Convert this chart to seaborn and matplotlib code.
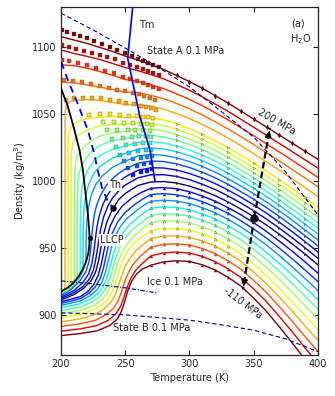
import matplotlib
matplotlib.use("Agg")
import matplotlib.pyplot as plt
import seaborn as sns

# ---------------- data ----------------
P_POS = [0.1, 10, 20, 30, 40, 50, 60, 70, 80, 90, 100, 120, 140, 160, 180, 200]
P_NEG = [-10, -20, -30, -40, -50, -60, -70, -80, -90, -100, -110]

# positive isobars, T >= 250 K
T_HI = [250, 260, 270, 280, 290, 300, 310, 320, 330, 340, 350, 360, 370, 380, 390, 400]
HI_P0 = [991.0, 997.0, 999.6, 999.9, 998.8, 996.5, 993.3, 989.4, 984.7, 979.4, 973.7, 967.4, 960.6, 953.4, 945.8, 937.8]
HI_P10 = [997.3, 1002.7, 1004.9, 1005.0, 1003.7, 1001.3, 997.9, 994.0, 989.2, 983.9, 978.1, 971.9, 965.1, 958.0, 950.5, 942.6]
HI_P20 = [1003.4, 1008.3, 1010.2, 1010.0, 1008.5, 1005.9, 1002.5, 998.4, 993.6, 988.3, 982.5, 976.3, 969.5, 962.5, 955.1, 947.3]
HI_P30 = [1009.2, 1013.6, 1015.2, 1014.8, 1013.1, 1010.4, 1006.9, 1002.7, 997.8, 992.4, 986.7, 980.4, 973.8, 966.8, 959.5, 951.8]
HI_P40 = [1015.1, 1019.0, 1020.1, 1019.5, 1017.6, 1014.8, 1011.2, 1006.9, 1002.0, 996.6, 990.8, 984.6, 978.0, 971.1, 963.8, 956.3]
HI_P50 = [1020.8, 1024.2, 1025.0, 1024.2, 1022.1, 1019.2, 1015.5, 1011.1, 1006.2, 1000.7, 994.9, 988.7, 982.1, 975.3, 968.1, 960.7]
HI_P60 = [1026.4, 1029.3, 1029.8, 1028.7, 1026.5, 1023.4, 1019.6, 1015.1, 1010.2, 1004.6, 998.8, 992.6, 986.1, 979.3, 972.3, 965.0]
HI_P70 = [1031.8, 1034.2, 1034.4, 1033.2, 1030.7, 1027.5, 1023.6, 1019.1, 1014.1, 1008.5, 1002.7, 996.5, 990.0, 983.3, 976.3, 969.1]
HI_P80 = [1037.1, 1039.1, 1038.9, 1037.5, 1034.9, 1031.6, 1027.6, 1023.0, 1017.9, 1012.3, 1006.5, 1000.3, 993.9, 987.2, 980.3, 973.2]
HI_P90 = [1042.3, 1043.8, 1043.3, 1041.7, 1038.9, 1035.5, 1031.4, 1026.7, 1021.6, 1016.0, 1010.1, 1004.0, 997.6, 991.0, 984.2, 977.2]
HI_P100 = [1047.4, 1048.4, 1047.7, 1045.9, 1042.9, 1039.4, 1035.2, 1030.4, 1025.3, 1019.6, 1013.7, 1007.6, 1001.3, 994.7, 988.0, 981.1]
HI_P120 = [1057.2, 1057.4, 1056.1, 1053.9, 1050.6, 1046.9, 1042.5, 1037.6, 1032.4, 1026.6, 1020.7, 1014.6, 1008.3, 1001.9, 995.4, 988.6]
HI_P140 = [1066.7, 1066.1, 1064.2, 1061.7, 1058.1, 1054.1, 1049.6, 1044.5, 1039.2, 1033.4, 1027.5, 1021.4, 1015.2, 1008.9, 1002.5, 996.0]
HI_P160 = [1076.0, 1074.5, 1072.1, 1069.2, 1065.3, 1061.2, 1056.5, 1051.2, 1045.9, 1040.0, 1034.1, 1028.0, 1021.9, 1015.7, 1009.4, 1003.0]
HI_P180 = [1084.9, 1082.6, 1079.7, 1076.5, 1072.3, 1068.0, 1063.1, 1057.7, 1052.3, 1046.4, 1040.4, 1034.4, 1028.3, 1022.2, 1016.1, 1009.9]
HI_P200 = [1093.5, 1090.5, 1087.0, 1083.5, 1079.0, 1074.5, 1069.5, 1064.0, 1058.5, 1052.5, 1046.5, 1040.5, 1034.5, 1028.5, 1022.5, 1016.5]

# positive isobars, T < 250 K
LO_T_P0 = [200, 210, 218, 223.5, 227, 229.2, 231, 233, 235.5, 238.5, 240.7, 245]
LO_R_P0 = [911.6, 915.5, 920.5, 926, 932.5, 940.5, 950, 960, 969, 976, 980, 986.5]
LO_T_P10 = [200, 210, 217, 222, 225.3, 227.3, 229, 230.8, 233.2, 236.5, 240, 245]
LO_R_P10 = [912.7, 917, 921.5, 927, 934, 943, 953, 964, 973.5, 981.5, 987.5, 993]
LO_T_P20 = [200, 210, 217, 221.5, 224, 225.5, 226.7, 228, 229.8, 232.5, 236, 240, 245]
LO_R_P20 = [913.7, 918.5, 924.5, 931, 938.5, 947, 956.5, 966, 974.5, 982.5, 989.5, 995, 999.5]
LO_T_P30 = [200, 208, 215, 219.5, 221.8, 223, 223.8, 224.8, 226, 228, 231, 235, 240, 245]
LO_R_P30 = [914.6, 919.5, 926, 933, 940, 948, 957.5, 967, 975.5, 983, 990, 996.5, 1002, 1006]
LO_T_P40 = [200, 205, 210, 214, 216.5, 218, 219.45, 219.5, 219.7, 220.3, 221.5, 223.5, 227, 232, 240]
LO_R_P40 = [916.0, 918.5, 922.5, 927.5, 932.1, 935.8, 940, 950, 962, 971.5, 981, 989.5, 997.5, 1004, 1010.5]
LO_T_P50 = [200, 205, 210, 214, 216, 217.15, 217.2, 217.4, 218, 219.3, 221.5, 225, 230, 240]
LO_R_P50 = [916.2, 918.7, 922.7, 927.8, 931.8, 934.5, 958, 971.5, 981, 989.5, 997.5, 1005, 1011, 1017.3]
LO_T_P60 = [200, 205, 210, 213, 214.95, 215.0, 215.3, 216.2, 217.8, 220.5, 224.5, 230, 240]
LO_R_P60 = [916.4, 918.9, 923, 926.5, 930.2, 972, 985, 994, 1001.5, 1008, 1014, 1019.3, 1023.8]
LO_T_P70 = [200, 205, 209, 212.65, 212.7, 212.8, 213.2, 214.3, 216.3, 219.5, 224, 230, 240]
LO_R_P70 = [916.6, 919.1, 922.3, 926.5, 982, 991, 1000, 1007, 1012.5, 1017.5, 1022.5, 1026.8, 1030.3]
LO_T_P80 = [200, 205, 208, 210.45, 210.5, 210.6, 211.2, 212.3, 214.5, 218, 223, 230, 240]
LO_R_P80 = [916.8, 919.3, 921.8, 924.6, 998, 1005, 1012.5, 1018, 1022, 1026, 1029.8, 1033.8, 1036.3]
LO_T_P90 = [200, 204, 207.95, 208.0, 208.2, 208.8, 210, 212, 216, 222, 230, 240]
LO_R_P90 = [917.0, 919.0, 922.3, 1013, 1021, 1027, 1030.5, 1033, 1036, 1038.8, 1041.3, 1042.5]
LO_T_P100 = [200, 203, 205.55, 205.6, 205.8, 206.5, 207.8, 210, 214, 220, 230, 240]
LO_R_P100 = [917.2, 918.8, 920.6, 1026, 1033, 1037.5, 1040.5, 1043, 1045, 1046.8, 1048, 1048.3]
LO_T_P120 = [200, 201.5, 203.15, 203.2, 203.5, 204.2, 205.5, 208, 213, 220, 230, 240]
LO_R_P120 = [917.4, 918.2, 919.3, 1047, 1053, 1056.5, 1058.5, 1059.8, 1060.6, 1061, 1060.5, 1059]
LO_T_P140 = [200, 210, 220, 230, 240]
LO_R_P140 = [1074, 1073.5, 1072, 1070.3, 1068.6]
LO_T_P160 = [200, 210, 220, 230, 240]
LO_R_P160 = [1087, 1086.3, 1084.5, 1082, 1079.2]
LO_T_P180 = [200, 210, 220, 230, 240]
LO_R_P180 = [1098, 1095.5, 1093.3, 1091, 1088]
LO_T_P200 = [200, 210, 220, 230, 240]
LO_R_P200 = [1108, 1105.5, 1103, 1100, 1097]

# negative isobars, T >= 280 K
T_NHI = [280, 290, 300, 310, 320, 330, 340, 350, 360, 370, 380, 390, 400]
NHI_M10 = [995.4, 994.5, 992.3, 989.1, 985.2, 980.5, 975.1, 969.2, 962.6, 955.4, 947.9, 939.9, 931.6]
NHI_M20 = [990.9, 990.0, 988.0, 984.9, 981.0, 976.2, 970.7, 964.5, 957.7, 950.2, 942.2, 933.9, 925.3]
NHI_M30 = [986.0, 985.3, 983.5, 980.4, 976.6, 971.7, 966.1, 959.6, 952.5, 944.6, 936.3, 927.5, 918.6]
NHI_M40 = [981.0, 980.5, 978.8, 975.8, 972.0, 967.0, 961.3, 954.6, 947.1, 938.8, 930.1, 921.0, 911.7]
NHI_M50 = [975.9, 975.6, 974.0, 971.1, 967.2, 962.2, 956.4, 949.4, 941.6, 933.0, 923.8, 914.3, 904.7]
NHI_M60 = [970.6, 970.4, 969.0, 966.1, 962.3, 957.2, 951.3, 944.0, 935.8, 926.7, 917.2, 907.2, 897.2]
NHI_M70 = [964.9, 964.9, 963.7, 960.9, 957.1, 951.9, 945.9, 938.3, 929.8, 920.3, 910.2, 899.8, 889.4]
NHI_M80 = [959.2, 959.4, 958.3, 955.6, 951.7, 946.5, 940.4, 932.4, 923.6, 913.6, 903.2, 892.2, 881.5]
NHI_M90 = [953.1, 953.4, 952.6, 949.9, 946.1, 940.8, 934.5, 926.2, 917.0, 906.6, 895.6, 884.2, 873.1]
NHI_M100 = [946.7, 947.3, 946.6, 944.0, 940.2, 934.8, 928.4, 919.8, 910.2, 899.2, 887.8, 875.8, 864.3]
NHI_M110 = [940.0, 940.8, 940.3, 937.8, 934.0, 928.5, 922.0, 913.0, 903.0, 891.5, 879.5, 867.0, 855.0]

# negative isobars, T <= 270 K
NLO_T_M10 = [200, 215, 220.5, 225.5, 229, 231.3, 233.2, 235.3, 238, 242, 247.5, 255, 262, 270]
NLO_R_M10 = [910.3, 914, 917.5, 923, 930, 938, 947, 956.5, 966, 974, 981.5, 987.5, 991.5, 994.9]
NLO_T_M20 = [200, 215, 221, 226.5, 230.5, 233, 235, 237.3, 240, 244, 249.5, 257, 263.5, 270]
NLO_R_M20 = [909, 912.5, 916, 921, 927.5, 935, 944, 953.5, 961.5, 969.5, 976.5, 982.5, 986.8, 990.2]
NLO_T_M30 = [200, 215, 222, 228, 232, 234.5, 236.8, 239.2, 242, 246, 251.5, 259, 265, 270]
NLO_R_M30 = [907.5, 910.8, 914.3, 919, 925, 932, 941, 950.5, 958.5, 966, 972.5, 978.5, 982.5, 985.2]
NLO_T_M40 = [200, 215, 223, 229, 233, 236, 238.5, 241, 244, 248, 253.5, 261, 270]
NLO_R_M40 = [905.7, 908.8, 912.3, 916.5, 922, 929, 937.5, 946.5, 954.5, 961.5, 968, 974, 980.0]
NLO_T_M50 = [200, 215, 224, 230, 234.5, 237.5, 240, 242.5, 245.5, 249.5, 255, 262, 270]
NLO_R_M50 = [903.6, 906.5, 910, 914, 919.5, 926, 934, 942.5, 950.5, 957, 963.5, 969, 974.8]
NLO_T_M60 = [200, 215, 225, 231, 236, 239, 241.5, 244, 247, 251, 256, 262, 270]
NLO_R_M60 = [901.2, 903.8, 907, 911, 916.5, 922.5, 930, 938.5, 946, 952.5, 958.5, 963.5, 969.2]
NLO_T_M70 = [200, 215, 225, 232, 237, 240.5, 243, 245.5, 248.5, 252, 257, 263, 270]
NLO_R_M70 = [898.5, 901, 904, 908, 913, 919, 926, 934, 942, 948.5, 954, 958.8, 963.3]
NLO_T_M80 = [200, 215, 226, 233, 238.5, 242, 244.5, 247, 250, 253.5, 258.5, 264, 270]
NLO_R_M80 = [895.3, 897.5, 900.5, 904.5, 909.5, 915, 921.5, 929, 936.5, 942.5, 948.5, 953, 957.4]
NLO_T_M90 = [200, 215, 227, 235, 241, 244.5, 247, 249.5, 252.5, 256, 261, 270]
NLO_R_M90 = [891.8, 893.8, 896.5, 900.5, 905.5, 911, 917.5, 925, 932, 938, 943.5, 951]
NLO_T_M100 = [200, 215, 228, 237, 243, 246.5, 249, 251.5, 254.5, 258, 263, 270]
NLO_R_M100 = [888.3, 890, 892.5, 896.5, 901.5, 907, 913.5, 921, 928, 933.5, 938.5, 944.5]
NLO_T_M110 = [200, 215, 228, 238, 244, 247, 249.5, 252, 255, 258.5, 263, 270]
NLO_R_M110 = [885, 886.5, 888.5, 892.5, 897.5, 903, 910, 918.5, 925.5, 930.5, 934.5, 937.5]

# liquid-liquid coexistence (binodal) and critical point
BIN_T = [200, 205, 210, 214.5, 217, 219.7, 221, 221.8, 222.3, 222.0, 221.2, 219.5, 217, 214, 210, 205, 200]
BIN_R = [1069.5, 1057, 1040, 1023, 1009, 986, 975, 966, 958, 951.5, 946, 940, 934.5, 929.5, 924.5, 920.5, 918]
LLCP_T = [222.3]
LLCP_R = [958]

# melting line, homogeneous nucleation line and 0.1 MPa references
TM_T = [255.8, 251.9, 261.5, 269.3, 273.2]
TM_R = [1130, 1092, 1048, 1023.4, 1000]
TH_T = [200.3, 205.4, 213, 221, 225.5, 229, 232, 236, 240.7]
TH_R = [1089, 1075.5, 1058, 1038, 1022, 1007, 995, 986, 980]
STA_T = [200, 225, 250, 275, 300, 325, 350, 375, 400]
STA_R = [1125.5, 1113, 1099.5, 1085.5, 1070.5, 1052, 1033, 1007, 975]
ICE_T = [200, 225, 250, 274.5]
ICE_R = [925.8, 923.5, 920.6, 916.9]
STB_T = [200, 250, 300, 325, 350, 375, 400]
STB_R = [902, 900.5, 896.5, 893, 889, 882.5, 873]

# 0.1 MPa state point and the arrows to 200 MPa and -110 MPa
ARROW_T = [350.5, 362.6, 341.7]
ARROW_R = [973, 1040, 919.5]

# experimental points (squares) on the high-pressure isobars
SQ_T_200 = [200.5, 205, 210, 215, 220, 226, 232, 238, 244, 250, 255, 260, 264, 268, 272, 276]
SQ_R_200 = [1113, 1111.5, 1110, 1108.5, 1107, 1105, 1102.5, 1100.5, 1098, 1095.5, 1093.5, 1091.5, 1090, 1088.5, 1087, 1085]
SQ_T_180 = [201, 206, 212, 218, 224, 230, 236, 242, 248, 254, 259, 264, 268, 272, 276]
SQ_R_180 = [1102, 1100.5, 1098.5, 1097, 1095.5, 1094, 1092.5, 1091, 1088.5, 1086.5, 1085, 1083.5, 1082, 1080.5, 1079]
SQ_T_160 = [200.5, 206, 213, 220, 227, 234, 241, 248, 254, 259, 264, 268, 272, 276]
SQ_R_160 = [1090.5, 1089.5, 1088, 1086.5, 1084.5, 1082.5, 1080.5, 1078, 1076.5, 1075, 1073.5, 1072, 1070.5, 1069]
SQ_T_140 = [202, 209, 216, 223, 230, 237, 244, 250, 256, 261, 265, 269, 273]
SQ_R_140 = [1075.5, 1075, 1074, 1073, 1071.5, 1070, 1068.5, 1067.5, 1066, 1065, 1063.5, 1062.5, 1061]
SQ_T_120 = [204, 210, 217, 224, 231, 238, 245, 251, 257, 262, 266, 270, 274]
SQ_R_120 = [1060.5, 1062, 1062.5, 1062.5, 1062, 1061, 1060, 1058.5, 1057.5, 1056.5, 1055.5, 1054.5, 1053]
SQ_T_100 = [222, 230, 238, 246, 253, 259, 264, 268, 272]
SQ_R_100 = [1049.5, 1050, 1050, 1049.5, 1049, 1048.8, 1048.3, 1047.8, 1047]
SQ_T_90 = [233, 241, 249, 256, 262, 267, 271]
SQ_R_90 = [1044, 1044, 1043.5, 1043.5, 1043, 1042.5, 1042]
SQ_T_80 = [236, 244, 252, 258, 264, 269]
SQ_R_80 = [1038, 1038, 1038, 1038.5, 1038, 1037.5]
SQ_T_70 = [240, 248, 255, 261, 266, 270]
SQ_R_70 = [1032, 1032.5, 1033, 1033.5, 1033.5, 1033]
SQ_T_60 = [243, 251, 258, 264, 269]
SQ_R_60 = [1026, 1027, 1028, 1028.5, 1028.5]
SQ_T_50 = [246, 253, 260, 266, 270]
SQ_R_50 = [1020, 1021.5, 1022.5, 1023.5, 1023.5]
SQ_T_40 = [249, 256, 262, 267, 271]
SQ_R_40 = [1015, 1016.5, 1017.5, 1018.5, 1019]
SQ_T_30 = [252, 259, 265, 270]
SQ_R_30 = [1010, 1011.5, 1013, 1013.5]
SQ_T_20 = [256, 262, 267, 271]
SQ_R_20 = [1005, 1007, 1008, 1009]

X_TICKS = [200, 250, 300, 350, 400]
Y_TICKS = [900, 950, 1000, 1050, 1100]

# ---------------- style ----------------
sns.set_style("ticks")
plt.rcParams['font.family'] = ['DejaVu Sans']
plt.rcParams['font.size'] = 7
plt.rcParams['mathtext.default'] = 'regular'
plt.rcParams['axes.linewidth'] = 0.9

cmap = plt.get_cmap('jet')
LW = 1.0

fig = plt.figure(figsize=(3.35, 3.96), dpi=100)
ax = fig.add_axes([0.182, 0.1035, 0.767, 0.8785])

POS_LO_T = [LO_T_P0, LO_T_P10, LO_T_P20, LO_T_P30, LO_T_P40, LO_T_P50, LO_T_P60, LO_T_P70,
            LO_T_P80, LO_T_P90, LO_T_P100, LO_T_P120, LO_T_P140, LO_T_P160, LO_T_P180, LO_T_P200]
POS_LO_R = [LO_R_P0, LO_R_P10, LO_R_P20, LO_R_P30, LO_R_P40, LO_R_P50, LO_R_P60, LO_R_P70,
            LO_R_P80, LO_R_P90, LO_R_P100, LO_R_P120, LO_R_P140, LO_R_P160, LO_R_P180, LO_R_P200]
POS_HI = [HI_P0, HI_P10, HI_P20, HI_P30, HI_P40, HI_P50, HI_P60, HI_P70,
          HI_P80, HI_P90, HI_P100, HI_P120, HI_P140, HI_P160, HI_P180, HI_P200]
NEG_LO_T = [NLO_T_M10, NLO_T_M20, NLO_T_M30, NLO_T_M40, NLO_T_M50, NLO_T_M60,
            NLO_T_M70, NLO_T_M80, NLO_T_M90, NLO_T_M100, NLO_T_M110]
NEG_LO_R = [NLO_R_M10, NLO_R_M20, NLO_R_M30, NLO_R_M40, NLO_R_M50, NLO_R_M60,
            NLO_R_M70, NLO_R_M80, NLO_R_M90, NLO_R_M100, NLO_R_M110]
NEG_HI = [NHI_M10, NHI_M20, NHI_M30, NHI_M40, NHI_M50, NHI_M60,
          NHI_M70, NHI_M80, NHI_M90, NHI_M100, NHI_M110]

pos_col = {p: cmap(i / (len(P_POS) - 1)) for i, p in enumerate(P_POS)}
neg_col = {p: cmap((i + 1) / len(P_NEG)) for i, p in enumerate(P_NEG)}


def line(xs, ys, color, lw=LW, ls='-', z=2, dashes=None):
    sns.lineplot(x=xs, y=ys, color=color, lw=lw, linestyle=ls, sort=False,
                 estimator=None, ax=ax, zorder=z, legend=False)
    if dashes is not None:
        ax.lines[-1].set_dashes(dashes)


# negative isobars
for p, lt, lr, hr in zip(P_NEG, NEG_LO_T, NEG_LO_R, NEG_HI):
    line(lt + T_NHI, lr + hr, neg_col[p])
# positive isobars
for p, lt, lr, hr in zip(P_POS, POS_LO_T, POS_LO_R, POS_HI):
    line(lt + T_HI, lr + hr, pos_col[p])

# markers: squares
SQ = [(200, SQ_T_200, SQ_R_200), (180, SQ_T_180, SQ_R_180), (160, SQ_T_160, SQ_R_160),
      (140, SQ_T_140, SQ_R_140), (120, SQ_T_120, SQ_R_120), (100, SQ_T_100, SQ_R_100),
      (90, SQ_T_90, SQ_R_90), (80, SQ_T_80, SQ_R_80), (70, SQ_T_70, SQ_R_70),
      (60, SQ_T_60, SQ_R_60), (50, SQ_T_50, SQ_R_50), (40, SQ_T_40, SQ_R_40),
      (30, SQ_T_30, SQ_R_30), (20, SQ_T_20, SQ_R_20)]
for p, st, sr in SQ:
    sns.scatterplot(x=st, y=sr, marker='s', s=6, color=pos_col[p], edgecolor='0.3',
                    linewidth=0.25, ax=ax, zorder=3, legend=False)

# right triangles on the low/moderate positive isobars
IDX_RT = [4, 6, 8, 10, 12, 14]
for p, hr in zip(P_POS[:11], POS_HI[:11]):
    sns.scatterplot(x=[T_HI[i] for i in IDX_RT], y=[hr[i] for i in IDX_RT], marker='>', s=4,
                    color=pos_col[p], edgecolor='0.4', linewidth=0.25, ax=ax, zorder=3, legend=False)
# diamonds on the 200 MPa isobar
IDX_D = list(range(4, 15))
sns.scatterplot(x=[T_HI[i] for i in IDX_D], y=[HI_P200[i] for i in IDX_D], marker='d', s=7,
                color=pos_col[200], edgecolor='0.2', linewidth=0.25, ax=ax, zorder=3, legend=False)
# up triangles on the negative isobars
IDX_UT = [0, 1, 2, 3, 4, 5]
for p, lt, lr, hr in zip(P_NEG, NEG_LO_T, NEG_LO_R, NEG_HI):
    sns.scatterplot(x=[lt[-1]] + [T_NHI[i] for i in IDX_UT], y=[lr[-1]] + [hr[i] for i in IDX_UT],
                    marker='^', s=5, color=neg_col[p], edgecolor='0.35', linewidth=0.25,
                    ax=ax, zorder=3, legend=False)

# reference lines
line(STA_T, STA_R, 'navy', lw=0.8, dashes=(4, 2.5), z=4)
line(ICE_T, ICE_R, 'navy', lw=0.8, dashes=(4, 1.5, 1, 1.5), z=4)
line(STB_T, STB_R, 'navy', lw=0.8, dashes=(4, 2.5), z=4)
line(TM_T, TM_R, 'blue', lw=1.2, z=4)
line(TH_T, TH_R, 'blue', lw=1.3, dashes=(4, 3), z=4)
line(BIN_T, BIN_R, 'black', lw=1.3, z=5)

# arrows from the 0.1 MPa point
ax.plot([ARROW_T[0], ARROW_T[1]], [ARROW_R[0], ARROW_R[1]], color='k', lw=1.6,
        dashes=(3, 1.5), zorder=6)
ax.plot([ARROW_T[0], ARROW_T[2]], [ARROW_R[0], ARROW_R[2]], color='k', lw=1.6,
        dashes=(3, 1.5), zorder=6)
for j in (1, 2):
    fx = ARROW_T[0] + 0.85 * (ARROW_T[j] - ARROW_T[0])
    fy = ARROW_R[0] + 0.85 * (ARROW_R[j] - ARROW_R[0])
    ax.annotate('', xy=(ARROW_T[j], ARROW_R[j]), xytext=(fx, fy),
                arrowprops=dict(arrowstyle='-|>', color='k', lw=1.0, mutation_scale=10),
                zorder=7)
sns.scatterplot(x=ARROW_T[:1], y=ARROW_R[:1], s=30, color='k', edgecolor='k', ax=ax,
                zorder=8, legend=False)
sns.scatterplot(x=LLCP_T, y=LLCP_R, s=12, color='k', edgecolor='k', ax=ax, zorder=8, legend=False)
sns.scatterplot(x=TH_T[-1:], y=TH_R[-1:], s=18, color='k', edgecolor='k', ax=ax, zorder=8,
                legend=False)

# text
white = dict(facecolor='white', edgecolor='none', pad=0.6)
ax.text(260.5, 1117, 'Tm', ha='left', va='center', zorder=9)
ax.text(267, 1097, 'State A 0.1 MPa', ha='left', va='center', zorder=9)
ax.text(379.5, 1118, '(a)', ha='left', va='center', zorder=9)
ax.text(378.5, 1106.5, 'H$_2$O', ha='left', va='center', zorder=9)
ax.text(367.8, 1044.5, '200 MPa', ha='center', va='center', rotation=-30, zorder=9)
ax.text(341.9, 909, '-110 MPa', ha='center', va='center', rotation=-37, zorder=9)
ax.text(230.5, 956.5, 'LLCP', ha='left', va='center', zorder=9, bbox=white)
ax.text(237.3, 997, 'Th', ha='left', va='center', zorder=9, bbox=white)
ax.text(266.7, 925, 'Ice 0.1 MPa', ha='left', va='center', zorder=9)
ax.text(240.7, 890.3, 'State B 0.1 MPa', ha='left', va='center', zorder=9)

ax.set_xlim(200, 400)
ax.set_ylim(870.5, 1130)
ax.set_xticks(X_TICKS)
ax.set_yticks(Y_TICKS)
ax.tick_params(direction='in', length=3.5, width=0.8, top=True, right=True, labelsize=7, pad=3)
ax.set_xlabel('Temperature (K)', fontsize=7, labelpad=3)
ax.set_ylabel('Density (kg/m$^3$)', fontsize=7, labelpad=3)

fig.savefig('out.png', dpi=100)
